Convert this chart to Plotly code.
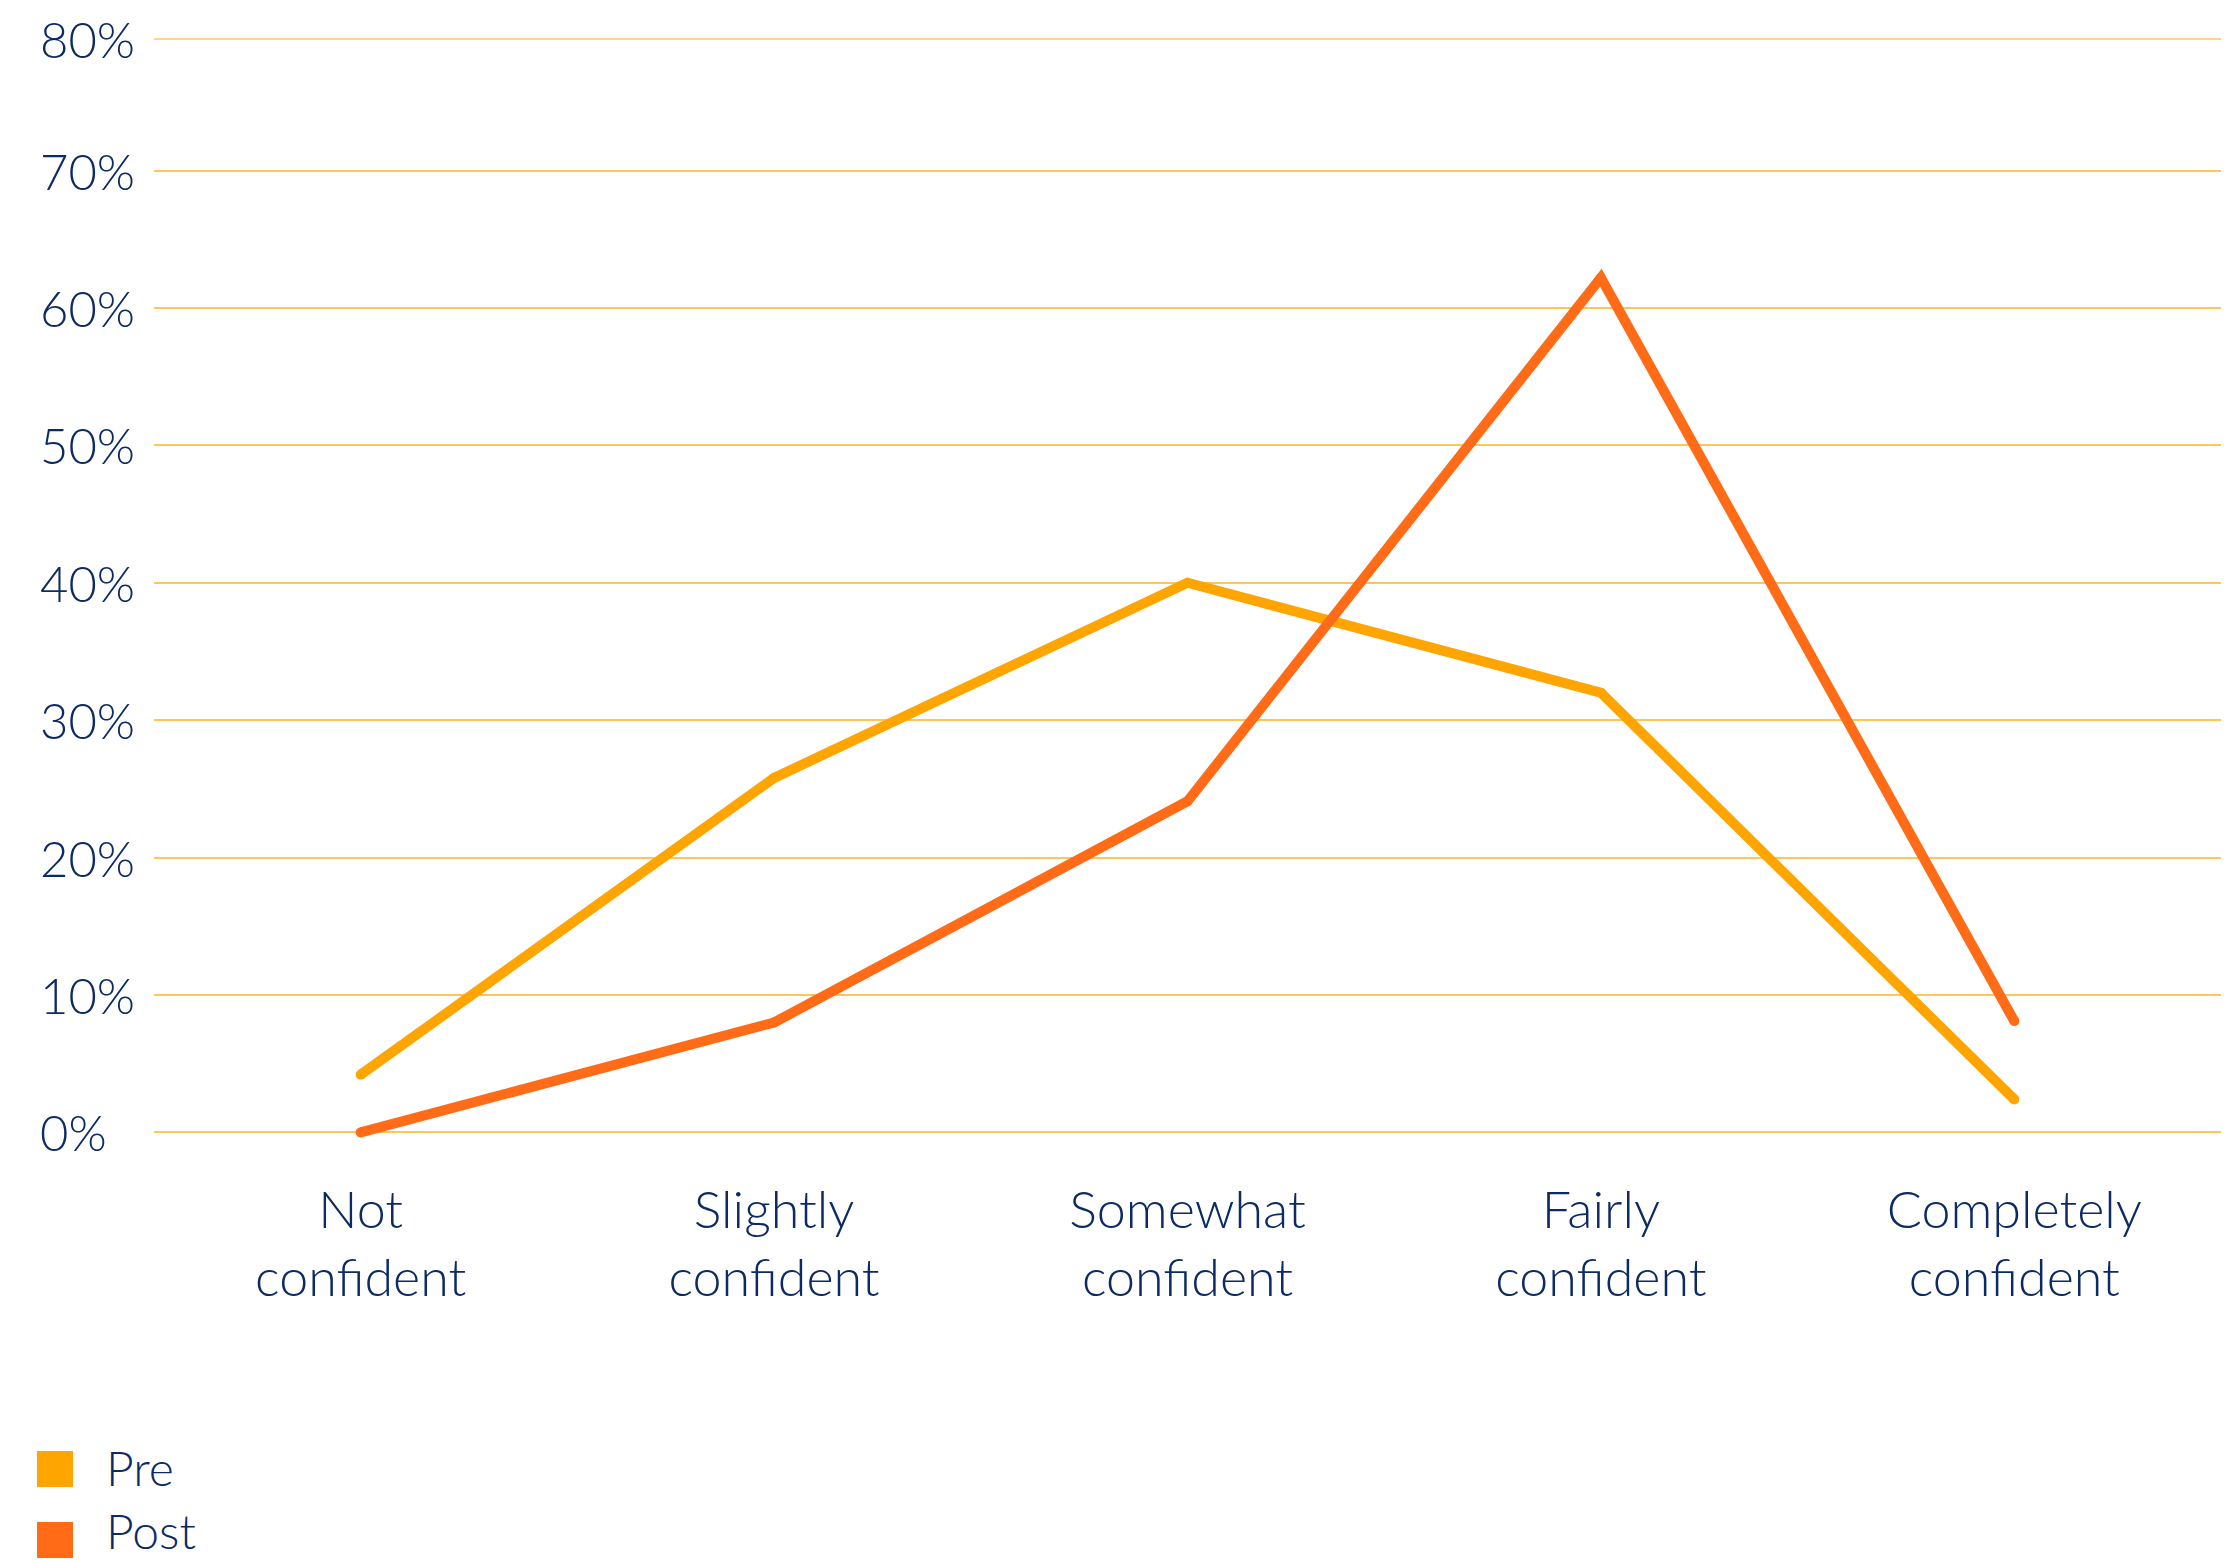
import plotly.graph_objects as go

# Confidence level categories and share of respondents (%)
categories = ["Not<br>confident", "Slightly<br>confident", "Somewhat<br>confident",
              "Fairly<br>confident", "Completely<br>confident"]
pre_values = [4.2, 25.8, 40.0, 32.0, 2.4]
post_values = [0.0, 8.0, 24.1, 62.2, 8.1]
series_names = ["Pre", "Post"]
y_ticks = [0, 10, 20, 30, 40, 50, 60, 70]
y_tick_labels = [f"{v}%" for v in y_ticks]
top_label = "80%"

PRE_COLOR = "#FFA502"
POST_COLOR = "#FF6B17"
TEXT_COLOR = "#0C2A63"
GRID_COLOR = "#FFC45A"
FONT = "Lato, 'Open Sans', sans-serif"

W, H = 2240, 1562
M_L, M_R, M_T, M_B = 154, 19, 39, 409
PLOT_W = W - M_L - M_R
PLOT_H = H - M_T - M_B
PX_PER_UNIT = 13.74
Y_LO = -1.5
Y_HI = Y_LO + PLOT_H / PX_PER_UNIT


def px_x(px):
    return (px - M_L) / PLOT_W


def px_y(py):
    return (H - M_B - py) / PLOT_H


x_idx = list(range(len(categories)))

fig = go.Figure()
for name, vals, color in [(series_names[0], pre_values, PRE_COLOR),
                          (series_names[1], post_values, POST_COLOR)]:
    fig.add_trace(go.Scatter(
        x=x_idx, y=vals, name=name, mode="lines+markers",
        line=dict(color=color, width=10),
        marker=dict(color=color, size=10, line=dict(width=0)),
        showlegend=False, cliponaxis=False, hoverinfo="skip",
    ))

# y-axis labels, left aligned
label_font = dict(family=FONT, size=49, color=TEXT_COLOR, weight=300)
for v, lab in zip(y_ticks, y_tick_labels):
    fig.add_annotation(
        x=px_x(38), xref="paper", y=v, yref="y", text=lab,
        showarrow=False, xanchor="left", yanchor="middle", font=label_font,
    )

# top rule of the chart area with its label
fig.add_shape(type="line", xref="paper", yref="paper", x0=0, x1=1, y0=1, y1=1,
              line=dict(color=GRID_COLOR, width=1.5), layer="below")
fig.add_annotation(
    x=px_x(38), xref="paper", y=1, yref="paper", text=top_label,
    showarrow=False, xanchor="left", yanchor="middle", font=label_font,
)

# legend with square swatches
legend_font = dict(family=FONT, size=48, color=TEXT_COLOR, weight=300)
legend_rows = [(series_names[0], PRE_COLOR, 1451), (series_names[1], POST_COLOR, 1522)]
for i, (name, color, top) in enumerate(legend_rows):
    fig.add_shape(type="rect", xref="paper", yref="paper",
                  x0=px_x(37), x1=px_x(73), y0=px_y(top + 36), y1=px_y(top),
                  fillcolor=color, line=dict(width=0))
    last = i == len(legend_rows) - 1
    fig.add_annotation(
        x=px_x(104), xref="paper",
        y=px_y(H - 1) if last else px_y(top + 17), yref="paper", text=name,
        showarrow=False, xanchor="left", yanchor="bottom" if last else "middle",
        font=legend_font,
    )

fig.update_layout(
    width=W, height=H,
    margin=dict(l=M_L, r=M_R, t=M_T, b=M_B, pad=0),
    paper_bgcolor="white", plot_bgcolor="white",
    showlegend=False,
    xaxis=dict(
        tickmode="array", tickvals=x_idx, ticktext=categories,
        range=[-0.5, len(categories) - 0.5],
        showgrid=False, zeroline=False, showline=False, ticks="",
        tickfont=dict(family=FONT, size=52, color=TEXT_COLOR, weight=300),
        ticklabelstandoff=22,
    ),
    yaxis=dict(
        tickmode="array", tickvals=y_ticks, range=[Y_LO, Y_HI],
        showticklabels=False, showgrid=True, gridcolor=GRID_COLOR, gridwidth=1.5,
        zeroline=False, showline=False, ticks="",
    ),
)

fig.write_html("out.html")
